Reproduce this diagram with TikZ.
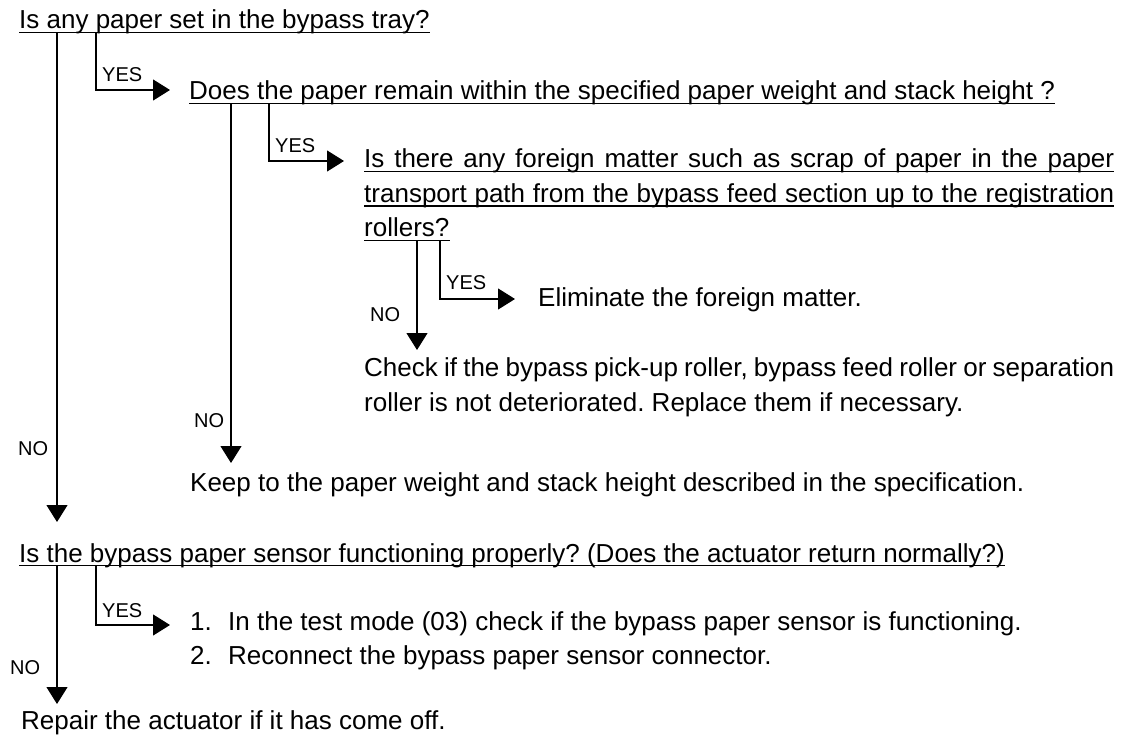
\documentclass[tikz,border=0pt]{standalone}
\usepackage{fontspec}
\setmainfont{Liberation Sans}
\usetikzlibrary{arrows.meta}
\frenchspacing
\tikzset{
  txt/.style={anchor=base west, inner sep=0pt, font=\fontsize{26}{31}\selectfont\frenchspacing},
  lbl/.style={anchor=base west, inner sep=0pt, font=\fontsize{20}{24}\selectfont},
  conn/.style={line width=1.2pt, -{Triangle[length=17pt,width=21pt]}},
  ul/.style={line width=1.2pt}
}
\begin{document}
\begin{tikzpicture}[x=1pt,y=-1pt]
\useasboundingbox (0,0) rectangle (1128,738);
% texts
\node[txt] (q1) at (19,29) {Is any paper set in the bypass tray?};
\node[txt] (q2) at (189,100) {Does the paper remain within the specified paper weight and stack height ?};
\node[txt] (q3a) at (364,168) {\makebox[750pt][s]{Is there any foreign matter such as scrap of paper in the paper}};
\node[txt] (q3b) at (364,202.5) {\makebox[750pt][s]{transport path from the bypass feed section up to the registration}};
\node[txt] (q3c) at (364,237) {rollers?};
\node[txt] (e1) at (538,307) {Eliminate the foreign matter.};
\node[txt] (c1) at (364,376) {\makebox[750pt][s]{Check if the bypass pick-up roller, bypass feed roller or separation}};
\node[txt] (c2) at (364,411) {roller is not deteriorated. Replace them if necessary.};
\node[txt] (k1) at (190,491) {Keep to the paper weight and stack height described in the specification.};
\node[txt] (q4) at (19,562) {Is the bypass paper sensor functioning properly? (Does the actuator return normally?)};
\node[txt] (s1) at (190,630) {\makebox[38pt][l]{1.}In the test mode (03) check if the bypass paper sensor is functioning.};
\node[txt] (s2) at (190,664) {\makebox[38pt][l]{2.}Reconnect the bypass paper sensor connector.};
\node[txt] (r1) at (21,729) {Repair the actuator if it has come off.};
% underlines
\foreach \n in {q1,q2,q3a,q3b,q3c,q4}
  \draw[ul] ([yshift=-3.5pt]\n.base west) -- ([yshift=-3.5pt]\n.base east);
% branch points on the underlines
\coordinate (q1n) at ([xshift=38pt,yshift=-3.5pt]q1.base west);
\coordinate (q1y) at ([xshift=77pt,yshift=-3.5pt]q1.base west);
\coordinate (q2n) at ([xshift=42pt,yshift=-3.5pt]q2.base west);
\coordinate (q2y) at ([xshift=80pt,yshift=-3.5pt]q2.base west);
\coordinate (q3n) at ([xshift=53pt,yshift=-3.5pt]q3c.base west);
\coordinate (q3y) at ([xshift=76pt,yshift=-3.5pt]q3c.base west);
\coordinate (q4n) at ([xshift=38pt,yshift=-3.5pt]q4.base west);
\coordinate (q4y) at ([xshift=77pt,yshift=-3.5pt]q4.base west);
% connectors
\draw[conn, shorten >=40pt] (q1n) -- (q1n |- q4.base);
\draw[conn] (q1y) |- ([xshift=-19pt,yshift=10pt]q2.base west);
\draw[conn, shorten >=28pt] (q2n) -- (q2n |- k1.base);
\draw[conn] (q2y) |- ([xshift=-20pt,yshift=7pt]q3a.base west);
\draw[conn, shorten >=26pt] (q3n) -- (q3n |- c1.base);
\draw[conn] (q3y) |- ([xshift=-23pt,yshift=8pt]e1.base west);
\draw[conn, shorten >=25pt] (q4n) -- (q4n |- r1.base);
\draw[conn] (q4y) |- ([xshift=-20pt,yshift=5pt]s1.base west);
% labels
\node[lbl] (y1) at (102,82) {YES};
\node[lbl] (y2) at (275,153) {YES};
\node[lbl] (y3) at (446,290) {YES};
\node[lbl] (y4) at (102,617) {YES};
\node[lbl] (n1) at (18,455) {NO};
\node[lbl] (n2) at (194,427) {NO};
\node[lbl] (n3) at (370,322) {NO};
\node[lbl] (n4) at (10,674) {NO};
\end{tikzpicture}
\end{document}
